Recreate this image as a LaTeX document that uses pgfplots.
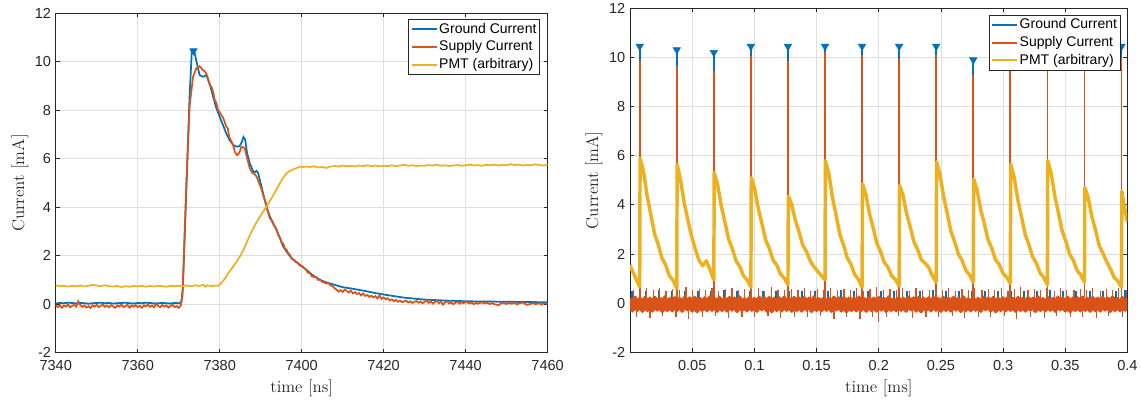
\documentclass[border=0pt]{standalone}
\usepackage{fontspec}
\usepackage{pgfplots}
\pgfplotsset{compat=1.18}
\newfontfamily\hv{Liberation Sans}
\definecolor{mblue}{rgb}{0,0.447,0.741}
\definecolor{mred}{rgb}{0.85,0.325,0.098}
\definecolor{myel}{rgb}{0.929,0.694,0.125}
\definecolor{maxis}{rgb}{0.15,0.15,0.15}
\definecolor{mgrid}{rgb}{0.87,0.87,0.87}

\pgfplotsset{
  mstyle/.style={
    scale only axis,
    axis line style={maxis, line width=0.6pt},
    tick style={maxis, line width=0.6pt},
    major tick length=3pt,
    tick align=inside,
    tick pos=both,
    xticklabel pos=bottom, yticklabel pos=left,
    grid=major,
    major grid style={mgrid, line width=0.5pt},
    ymin=-2, ymax=12,
    ytick={-2,0,2,4,6,8,10,12},
    yticklabels={-2,0,2,4,6,8,10,12},
    ticklabel style={font=\hv\fontsize{10.9}{13}\selectfont, text=maxis},
    xticklabel style={yshift=-2.5pt},
    label style={font=\fontsize{12.7}{15}\selectfont, text=maxis},
    ylabel={Current [mA]},
    legend style={font=\hv\fontsize{10.5}{12}\selectfont, draw=maxis, line width=0.5pt,
      fill=white, inner xsep=1.5pt, inner ysep=1.5pt, row sep=1.2pt,
      nodes={inner sep=1pt, text height=7.8pt, text depth=2.2pt},
      cells={anchor=west}, at={(1,1)}, anchor=north east},
    legend image code/.code={\draw[#1, line width=1.5pt] (0pt,0pt) -- (19pt,0pt);},
    legend entries={Ground Current, Supply Current, PMT (arbitrary)},
  }
}

\begin{document}
\begin{tikzpicture}
\useasboundingbox (0,0) rectangle (855.75pt,301.5pt);

% ---- left: single pulse ----
\begin{axis}[mstyle,
  at={(41.8pt,37pt)}, anchor=south west,
  width=368.9pt, height=254.5pt,
  xmin=7340, xmax=7460,
  xtick={7340,7360,7380,7400,7420,7440,7460},
  xticklabels={7340,7360,7380,7400,7420,7440,7460},
  xlabel={time [ns]},
  xlabel style={at={(axis description cs:0.5,-0.104)}, anchor=center},
  ylabel style={at={(axis description cs:-0.0727,0.5)}, anchor=center},
  legend style={xshift=-5.6pt, yshift=-4.3pt},
]
\addlegendimage{mblue}
\addlegendimage{mred}
\addlegendimage{myel}

\addplot[mblue, line width=1.3pt, forget plot] coordinates {
(7340,0.03)(7341,0.05)(7342,0.04)(7343,0.06)(7344,0.05)(7345,0.03)(7346,0.05)(7347,0.04)(7348,0.02)(7349,0.04)
(7350,0.05)(7351,0.06)(7352,0.04)(7353,0.05)(7354,0.03)(7355,0.04)(7356,0.05)(7357,0.06)(7358,0.04)(7359,0.03)
(7360,0.05)(7361,0.04)(7362,0.06)(7363,0.05)(7364,0.03)(7365,0.04)(7366,0.05)(7367,0.04)(7368,0.03)(7369,0.05)
(7370,0.04)(7370.6,0.08)(7371,0.6)(7371.8,4.4)(7372.65,8.55)(7373.2,10.45)(7373.6,10.5)(7373.9,10.35)(7374.45,9.93)
(7375.1,9.45)(7375.9,9.38)(7376.7,9.45)(7377.55,9.1)(7378.4,8.56)(7379.2,8.08)(7380,7.73)(7380.8,7.39)(7381.6,7.05)
(7382.4,6.77)(7383.3,6.57)(7384.1,6.5)(7384.9,6.52)(7385.4,6.7)(7385.8,6.9)(7386.2,6.8)(7386.7,6.22)(7387.35,5.81)
(7388.2,5.47)(7388.6,5.45)(7389,5.5)(7389.4,5.4)(7389.8,5.12)(7390.6,4.57)(7391.4,4.02)(7392.25,3.61)(7393.06,3.34)
(7393.9,3.06)(7394.7,2.72)(7395.5,2.38)(7396.3,2.17)(7397.1,1.99)(7397.96,1.83)(7399.6,1.62)(7401.2,1.41)(7402.9,1.17)
(7404.5,1.0)(7406,0.9)(7408,0.8)(7410,0.7)(7412,0.65)(7415,0.56)(7418,0.46)(7420,0.4)(7423,0.32)(7425,0.27)
(7428,0.22)(7430,0.19)(7435,0.15)(7440,0.12)(7445,0.11)(7450,0.1)(7455,0.09)(7460,0.08)
};

\addplot[mred, line width=1.3pt, forget plot] coordinates {
(7340,-0.05)(7340.5,-0.12)(7341,-0.04)(7341.5,-0.15)(7342,-0.06)(7342.5,-0.1)(7343,-0.02)(7343.5,-0.13)(7344,-0.07)(7344.5,-0.03)
(7345,-0.1)(7345.5,0.12)(7346,-0.04)(7346.5,-0.11)(7347,-0.06)(7347.5,-0.14)(7348,-0.08)(7348.5,-0.16)(7349,-0.05)(7349.5,-0.1)
(7350,-0.03)(7350.5,-0.12)(7351,-0.07)(7351.5,-0.02)(7352,-0.11)(7352.5,-0.06)(7353,-0.13)(7353.5,-0.04)(7354,-0.09)(7354.5,-0.15)
(7355,-0.05)(7355.5,-0.1)(7356,-0.02)(7356.5,-0.12)(7357,-0.08)(7357.5,-0.03)(7358,-0.14)(7358.5,-0.06)(7359,-0.1)(7359.5,-0.04)
(7360,-0.12)(7360.5,-0.07)(7361,-0.15)(7361.5,-0.05)(7362,-0.09)(7362.5,-0.02)(7363,-0.11)(7363.5,-0.06)(7364,-0.13)(7364.5,0.02)
(7365,-0.08)(7365.5,-0.12)(7366,-0.04)(7366.5,-0.1)(7367,-0.06)(7367.5,-0.14)(7368,-0.07)(7368.5,-0.03)(7369,-0.12)(7369.5,-0.08)
(7370,-0.15)(7370.5,-0.06)(7370.9,0.3)(7371.2,1.7)(7371.8,4.7)(7372.65,8.15)(7373.5,9.38)(7374.3,9.73)(7375.1,9.82)(7375.5,9.75)
(7375.9,9.66)(7376.3,9.62)(7376.7,9.52)(7377.1,9.35)(7377.55,9.04)(7378,8.97)(7378.4,8.75)(7378.8,8.42)(7379.2,8.3)(7379.6,8.0)
(7380,7.92)(7380.4,7.8)(7380.8,7.7)(7381.2,7.53)(7381.6,7.32)(7382,7.25)(7382.3,6.91)(7382.9,6.7)(7383.3,6.55)(7383.7,6.29)
(7384.2,6.15)(7384.6,6.2)(7384.9,6.29)(7385.2,6.45)(7385.55,6.5)(7386.1,6.43)(7386.7,6.02)(7387.35,5.6)(7387.8,5.45)(7388.2,5.4)
(7388.6,5.35)(7389,5.26)(7389.4,5.1)(7389.8,4.92)(7390.2,4.75)(7390.6,4.5)(7391,4.3)(7391.4,4.09)(7391.8,3.8)(7392.25,3.54)
(7392.7,3.45)(7393.06,3.3)(7393.5,3.2)(7393.9,3.06)(7394.3,2.85)(7394.7,2.75)(7395.1,2.55)(7395.5,2.5)(7395.9,2.3)(7396.3,2.25)
(7396.7,2.1)(7397.1,2.05)(7397.5,1.88)(7398,1.85)(7398.5,1.75)(7399,1.72)(7399.5,1.6)(7400,1.58)(7400.5,1.5)(7401,1.45)
(7401.5,1.3)(7402,1.28)(7402.5,1.15)(7403,1.12)(7403.5,1.12)(7404,1.0)(7404.5,1.02)(7405,0.92)(7405.5,0.9)(7406,0.85)
(7406.5,0.88)(7407,0.78)(7407.5,0.75)(7408,0.66)(7408.5,0.6)(7409,0.52)(7409.5,0.58)(7410,0.5)(7410.5,0.6)(7411,0.55)
(7411.5,0.48)(7412,0.56)(7412.5,0.44)(7413,0.5)(7413.5,0.42)(7414,0.46)(7414.5,0.36)(7415,0.44)(7415.5,0.34)(7416,0.38)
(7416.5,0.3)(7417,0.35)(7417.5,0.28)(7418,0.33)(7418.5,0.24)(7419,0.36)(7419.5,0.22)(7420,0.28)(7420.5,0.2)(7421,0.25)
(7421.5,0.15)(7422,0.2)(7422.5,0.12)(7423,0.18)(7423.5,0.1)(7424,0.15)(7424.5,0.08)(7425,0.12)(7425.5,0.14)(7426,0.07)
(7426.5,0.12)(7427,0.05)(7427.5,0.1)(7428,0.13)(7428.5,0.06)(7429,0.11)(7429.5,0.04)(7430,0.1)(7430.5,0.15)(7431,0.05)
(7431.5,0.12)(7432,0.02)(7432.5,0.09)(7433,0.14)(7433.5,0.04)(7434,0.1)(7434.5,-0.02)(7435,0.08)(7435.5,0.12)(7436,0.03)
(7436.5,0.07)(7437,0.0)(7437.5,0.06)(7438,0.1)(7438.5,0.02)(7439,0.08)(7439.5,0.04)(7440,0.09)(7441,0.03)(7441.5,0.07)
(7442,0.0)(7442.5,0.06)(7443,0.02)(7444,0.08)(7444.5,0.03)(7445,0.06)(7446,0.01)(7446.5,0.05)(7447,0.0)(7448,-0.04)
(7448.5,0.02)(7449,0.05)(7450,0.01)(7450.5,0.06)(7451,0.02)(7452,0.05)(7452.5,-0.01)(7453,0.03)(7454,0.07)(7454.5,0.01)
(7455,-0.03)(7456,0.02)(7456.5,0.05)(7457,0.0)(7458,0.04)(7458.5,-0.02)(7459,0.03)(7460,0.02)
};

\addplot[myel, line width=1.3pt, forget plot] coordinates {
(7340,0.78)(7341,0.74)(7342,0.76)(7343,0.73)(7344,0.75)(7345,0.74)(7346,0.77)(7347,0.73)(7348,0.76)(7349,0.8)
(7350,0.77)(7351,0.75)(7352,0.78)(7353,0.74)(7354,0.73)(7355,0.75)(7356,0.71)(7357,0.74)(7358,0.72)(7359,0.75)
(7360,0.73)(7361,0.76)(7362,0.72)(7363,0.75)(7364,0.73)(7365,0.76)(7366,0.74)(7367,0.72)(7368,0.76)(7369,0.74)
(7370,0.76)(7371,0.75)(7372,0.77)(7373,0.74)(7374,0.78)(7375,0.75)(7376,0.8)(7376.5,0.72)(7377,0.78)(7378,0.75)
(7379,0.76)(7379.6,0.76)(7380,0.8)(7380.8,0.95)(7381.6,1.14)(7382.4,1.35)(7383.3,1.55)(7384.1,1.75)(7384.9,1.96)(7385.7,2.2)
(7386.5,2.51)(7387.3,2.82)(7388.2,3.13)(7389,3.38)(7389.8,3.61)(7390.6,3.82)(7391.4,4.02)(7392.2,4.25)(7393.1,4.5)(7393.9,4.75)
(7394.7,4.99)(7395.5,5.22)(7396.3,5.4)(7397.1,5.5)(7398,5.56)(7398.8,5.62)(7399.6,5.67)(7400.4,5.66)(7401.2,5.68)(7402,5.66)
(7403,5.69)(7404,5.64)(7405,5.66)(7406,5.62)(7407,5.68)(7408,5.7)(7409,5.68)(7410,5.72)(7411,5.69)(7412,5.71)
(7413,5.68)(7414,5.72)(7415,5.7)(7416,5.73)(7417,5.7)(7418,5.72)(7419,5.69)(7420,5.71)(7421,5.7)(7422,5.73)
(7423,5.7)(7424,5.72)(7425,5.75)(7426,5.71)(7427,5.73)(7428,5.7)(7429,5.72)(7430,5.71)(7431,5.74)(7432,5.72)
(7433,5.75)(7434,5.71)(7435,5.73)(7436,5.7)(7437,5.72)(7438,5.74)(7439,5.71)(7440,5.73)(7441,5.76)(7442,5.72)
(7443,5.74)(7444,5.71)(7445,5.75)(7446,5.73)(7447,5.76)(7448,5.72)(7449,5.75)(7450,5.73)(7451,5.78)(7452,5.74)
(7453,5.76)(7454,5.72)(7455,5.75)(7456,5.73)(7457,5.77)(7458,5.74)(7459,5.72)(7460,5.76)
};

\addplot[mblue, only marks, mark=triangle*, mark size=3.2pt, mark options={rotate=180, fill=mblue, draw=mblue}, forget plot]
  coordinates {(7373.6,10.45)};
\end{axis}

% ---- right: pulse train ----
\begin{axis}[mstyle,
  at={(472.5pt,37.3pt)}, anchor=south west,
  width=373.1pt, height=258pt,
  xmin=0, xmax=0.4,
  xtick={0.05,0.1,0.15,0.2,0.25,0.3,0.35,0.4},
  xticklabels={0.05,0.1,0.15,0.2,0.25,0.3,0.35,0.4},
  xlabel={time [ms]},
  xlabel style={at={(axis description cs:0.5,-0.104)}, anchor=center},
  ylabel style={at={(axis description cs:-0.0724,0.5)}, anchor=center},
  legend style={xshift=-5.1pt, yshift=-5pt},
]
\addlegendimage{mblue}
\addlegendimage{mred}
\addlegendimage{myel}

% ground current: small blips above the noise band, and the pulses
\addplot[mblue, line width=1.5pt, ycomb, forget plot] coordinates {
(0.002,0.5)(0.0125,0.48)(0.023,0.52)(0.0335,0.48)(0.044,0.5)(0.0545,0.48)(0.065,0.5)(0.0755,0.52)(0.086,0.48)(0.0965,0.5)
(0.107,0.48)(0.1175,0.51)(0.128,0.48)(0.1385,0.5)(0.149,0.48)(0.1595,0.5)(0.17,0.52)(0.1805,0.48)(0.191,0.5)(0.2015,0.48)
(0.212,0.5)(0.2225,0.48)(0.233,0.5)(0.2435,0.52)(0.254,0.48)(0.2645,0.5)(0.275,0.48)(0.2855,0.51)(0.296,0.48)(0.3065,0.5)
(0.317,0.48)(0.3275,0.5)(0.338,0.52)(0.3485,0.48)(0.359,0.5)(0.3695,0.48)(0.38,0.5)(0.3905,0.48)(0.398,0.52)
};
\addplot[mblue, line width=1.3pt, ycomb, forget plot] coordinates {
(0.0078,10.45)(0.0376,10.31)(0.0674,10.2)(0.0972,10.45)(0.127,10.45)(0.1568,10.45)(0.1866,10.45)
(0.2164,10.45)(0.2462,10.45)(0.276,9.9)(0.3058,10.4)(0.3356,10.4)(0.3654,10.4)(0.3952,10.45)
};

% supply current: noise band, thin noise spikes, pulses
\addplot[mred, line width=3.4pt, line join=round, forget plot] coordinates {
(0,0.19)(0.002,-0.29)(0.004,0.22)(0.006,-0.27)(0.008,0.17)(0.01,-0.31)(0.012,0.21)(0.014,-0.28)(0.016,0.18)(0.018,-0.3)
(0.02,0.21)(0.022,-0.26)(0.024,0.18)(0.026,-0.32)(0.028,0.23)(0.03,-0.28)(0.032,0.16)(0.034,-0.29)(0.036,0.2)(0.038,-0.27)
(0.04,0.17)(0.042,-0.31)(0.044,0.22)(0.046,-0.25)(0.048,0.19)(0.05,-0.3)(0.052,0.21)(0.054,-0.33)(0.056,0.18)(0.058,-0.28)
(0.06,0.19)(0.062,-0.29)(0.064,0.22)(0.066,-0.27)(0.068,0.17)(0.07,-0.31)(0.072,0.21)(0.074,-0.28)(0.076,0.18)(0.078,-0.3)
(0.08,0.21)(0.082,-0.26)(0.084,0.18)(0.086,-0.32)(0.088,0.23)(0.09,-0.28)(0.092,0.16)(0.094,-0.29)(0.096,0.2)(0.098,-0.27)
(0.1,0.17)(0.102,-0.31)(0.104,0.22)(0.106,-0.25)(0.108,0.19)(0.11,-0.3)(0.112,0.21)(0.114,-0.33)(0.116,0.18)(0.118,-0.28)
(0.12,0.19)(0.122,-0.29)(0.124,0.22)(0.126,-0.27)(0.128,0.17)(0.13,-0.31)(0.132,0.21)(0.134,-0.28)(0.136,0.18)(0.138,-0.3)
(0.14,0.21)(0.142,-0.26)(0.144,0.18)(0.146,-0.32)(0.148,0.23)(0.15,-0.28)(0.152,0.16)(0.154,-0.29)(0.156,0.2)(0.158,-0.27)
(0.16,0.17)(0.162,-0.31)(0.164,0.22)(0.166,-0.25)(0.168,0.19)(0.17,-0.3)(0.172,0.21)(0.174,-0.33)(0.176,0.18)(0.178,-0.28)
(0.18,0.19)(0.182,-0.29)(0.184,0.22)(0.186,-0.27)(0.188,0.17)(0.19,-0.31)(0.192,0.21)(0.194,-0.28)(0.196,0.18)(0.198,-0.3)
(0.2,0.21)(0.202,-0.26)(0.204,0.18)(0.206,-0.32)(0.208,0.23)(0.21,-0.28)(0.212,0.16)(0.214,-0.29)(0.216,0.2)(0.218,-0.27)
(0.22,0.17)(0.222,-0.31)(0.224,0.22)(0.226,-0.25)(0.228,0.19)(0.23,-0.3)(0.232,0.21)(0.234,-0.33)(0.236,0.18)(0.238,-0.28)
(0.24,0.19)(0.242,-0.29)(0.244,0.22)(0.246,-0.27)(0.248,0.17)(0.25,-0.31)(0.252,0.21)(0.254,-0.28)(0.256,0.18)(0.258,-0.3)
(0.26,0.21)(0.262,-0.26)(0.264,0.18)(0.266,-0.32)(0.268,0.23)(0.27,-0.28)(0.272,0.16)(0.274,-0.29)(0.276,0.2)(0.278,-0.27)
(0.28,0.17)(0.282,-0.31)(0.284,0.22)(0.286,-0.25)(0.288,0.19)(0.29,-0.3)(0.292,0.21)(0.294,-0.33)(0.296,0.18)(0.298,-0.28)
(0.3,0.19)(0.302,-0.29)(0.304,0.22)(0.306,-0.27)(0.308,0.17)(0.31,-0.31)(0.312,0.21)(0.314,-0.28)(0.316,0.18)(0.318,-0.3)
(0.32,0.21)(0.322,-0.26)(0.324,0.18)(0.326,-0.32)(0.328,0.23)(0.33,-0.28)(0.332,0.16)(0.334,-0.29)(0.336,0.2)(0.338,-0.27)
(0.34,0.17)(0.342,-0.31)(0.344,0.22)(0.346,-0.25)(0.348,0.19)(0.35,-0.3)(0.352,0.21)(0.354,-0.33)(0.356,0.18)(0.358,-0.28)
(0.36,0.19)(0.362,-0.29)(0.364,0.22)(0.366,-0.27)(0.368,0.17)(0.37,-0.31)(0.372,0.21)(0.374,-0.28)(0.376,0.18)(0.378,-0.3)
(0.38,0.21)(0.382,-0.26)(0.384,0.18)(0.386,-0.32)(0.388,0.23)(0.39,-0.28)(0.392,0.16)(0.394,-0.29)(0.396,0.2)(0.398,-0.27)(0.4,0.19)
};
\addplot[mred, line width=0.9pt, ycomb, forget plot] coordinates {
(0.003,0.55)(0.008,0.5)(0.013,0.6)(0.019,0.53)(0.024,0.63)(0.029,0.51)(0.034,0.57)(0.04,0.55)(0.045,0.65)(0.05,0.52)
(0.056,0.58)(0.061,0.54)(0.066,0.61)(0.071,0.5)(0.077,0.56)(0.082,0.63)(0.087,0.52)(0.092,0.57)(0.098,0.54)(0.103,0.6)
(0.108,0.51)(0.114,0.65)(0.119,0.55)(0.124,0.52)(0.13,0.59)(0.135,0.54)(0.14,0.62)(0.145,0.51)(0.151,0.57)(0.156,0.55)
(0.161,0.63)(0.167,0.52)(0.172,0.58)(0.177,0.54)(0.182,0.61)(0.188,0.5)(0.193,0.56)(0.198,0.65)(0.204,0.52)(0.209,0.57)
(0.214,0.54)(0.219,0.6)(0.225,0.51)(0.23,0.63)(0.235,0.55)(0.241,0.52)(0.246,0.59)(0.251,0.54)(0.256,0.62)(0.262,0.51)
(0.267,0.57)(0.272,0.55)(0.277,0.63)(0.283,0.52)(0.288,0.58)(0.293,0.54)(0.299,0.61)(0.304,0.5)(0.309,0.56)(0.314,0.65)
(0.32,0.52)(0.325,0.57)(0.33,0.54)(0.335,0.6)(0.341,0.51)(0.346,0.63)(0.351,0.55)(0.357,0.52)(0.362,0.59)(0.367,0.54)
(0.372,0.62)(0.378,0.51)(0.383,0.57)(0.388,0.55)(0.393,0.61)(0.399,0.53)
(0.005,-0.55)(0.016,-0.6)(0.026,-0.53)(0.037,-0.57)(0.047,-0.65)(0.058,-0.55)(0.069,-0.52)(0.079,-0.6)(0.09,-0.55)(0.1,-0.58)
(0.111,-0.53)(0.121,-0.61)(0.132,-0.55)(0.143,-0.57)(0.153,-0.52)(0.164,-0.63)(0.174,-0.55)(0.185,-0.65)(0.195,-0.55)(0.2,-0.75)
(0.206,-0.57)(0.216,-0.53)(0.227,-0.6)(0.238,-0.55)(0.248,-0.58)(0.259,-0.52)(0.269,-0.61)(0.28,-0.55)(0.29,-0.57)(0.301,-0.53)
(0.311,-0.63)(0.322,-0.55)(0.333,-0.6)(0.343,-0.52)(0.354,-0.57)(0.364,-0.55)(0.375,-0.61)(0.385,-0.53)(0.396,-0.57)
};
\addplot[mred, line width=1.3pt, ycomb, forget plot] coordinates {
(0.0078,9.84)(0.0376,9.63)(0.0674,9.46)(0.0972,10.04)(0.127,9.86)(0.1568,10.24)(0.1866,10.11)
(0.2164,9.93)(0.2462,10.11)(0.276,9.29)(0.3058,10.0)(0.3356,10.1)(0.3654,9.95)(0.3952,9.97)
};

% PMT
\addplot[myel, line width=2.6pt, line join=round, forget plot] coordinates {
(0,1.55)(0.0015,1.35)(0.003,1.2)(0.0045,1.02)(0.006,0.86)(0.0072,0.72)(0.0078,0.66)
(0.0081,5.9)(0.0108,5.37)(0.0138,4.36)(0.0167,3.61)(0.0197,2.83)(0.0227,2.38)(0.0257,1.83)(0.0287,1.55)(0.0316,1.12)(0.0346,0.93)(0.0376,0.6)
(0.0379,5.65)(0.0406,5.02)(0.0436,4.08)(0.0465,3.38)(0.0495,2.72)(0.0525,2.2)(0.0555,1.74)(0.0585,1.52)(0.0614,1.72)(0.0644,1.36)(0.0674,0.95)
(0.0677,5.3)(0.0704,4.83)(0.0734,3.95)(0.0763,3.3)(0.0793,2.6)(0.0823,2.21)(0.0853,1.72)(0.0883,1.48)(0.0912,1.11)(0.0942,0.95)(0.0972,0.65)
(0.0975,5.1)(0.1002,4.66)(0.1032,3.83)(0.1061,3.24)(0.1091,2.57)(0.1121,2.21)(0.1151,1.74)(0.1181,1.54)(0.121,1.18)(0.124,1.02)(0.127,0.75)
(0.1273,4.35)(0.13,4.02)(0.133,3.35)(0.1359,2.9)(0.1389,2.36)(0.1419,2.1)(0.1449,1.72)(0.1479,1.48)(0.1508,1.3)(0.1538,1.12)(0.1568,0.95)
(0.1571,5.8)(0.1598,5.28)(0.1628,4.3)(0.1657,3.58)(0.1687,2.8)(0.1717,2.37)(0.1747,1.84)(0.1777,1.58)(0.1806,1.17)(0.1836,0.97)(0.1866,0.65)
(0.1869,4.85)(0.1896,4.43)(0.1926,3.63)(0.1955,3.07)(0.1985,2.43)(0.2015,2.1)(0.2045,1.65)(0.2075,1.46)(0.2104,1.11)(0.2134,0.96)(0.2164,0.7)
(0.2167,4.8)(0.2194,4.41)(0.2224,3.64)(0.2253,3.1)(0.2283,2.5)(0.2313,2.18)(0.2343,1.76)(0.2373,1.62)(0.2402,1.45)(0.2432,1.1)(0.2462,0.85)
(0.2465,5.75)(0.2492,5.25)(0.2522,4.33)(0.2551,3.64)(0.2581,2.91)(0.2611,2.49)(0.2641,1.98)(0.2671,1.73)(0.27,1.34)(0.273,1.15)(0.276,0.85)
(0.2763,5.05)(0.279,4.62)(0.282,3.8)(0.2849,3.23)(0.2879,2.58)(0.2909,2.23)(0.2939,1.77)(0.2969,1.57)(0.2998,1.22)(0.3028,1.06)(0.3058,0.8)
(0.3061,5.65)(0.3088,5.15)(0.3118,4.22)(0.3147,3.54)(0.3177,2.81)(0.3207,2.39)(0.3237,1.88)(0.3267,1.63)(0.3296,1.24)(0.3326,1.05)(0.3356,0.75)
(0.3359,5.8)(0.3386,5.3)(0.3416,4.35)(0.3445,3.67)(0.3475,2.93)(0.3505,2.51)(0.3535,1.99)(0.3565,1.74)(0.3594,1.34)(0.3624,1.15)(0.3654,0.85)
(0.3657,4.7)(0.3684,4.29)(0.3714,3.52)(0.3743,2.97)(0.3773,2.34)(0.3803,2.02)(0.3833,1.68)(0.3863,1.39)(0.3892,1.05)(0.3922,0.9)(0.3952,0.65)
(0.3955,4.55)(0.3975,3.9)(0.4,3.3)
};

\addplot[mblue, only marks, mark=triangle*, mark size=3.2pt, mark options={rotate=180, fill=mblue, draw=mblue}, forget plot]
  coordinates {(0.0078,10.45)(0.0376,10.31)(0.0674,10.2)(0.0972,10.45)(0.127,10.45)(0.1568,10.45)(0.1866,10.45)
  (0.2164,10.45)(0.2462,10.45)(0.276,9.9)(0.3058,10.4)(0.3356,10.4)(0.3654,10.4)(0.3952,10.45)};
\end{axis}
\end{tikzpicture}
\end{document}
